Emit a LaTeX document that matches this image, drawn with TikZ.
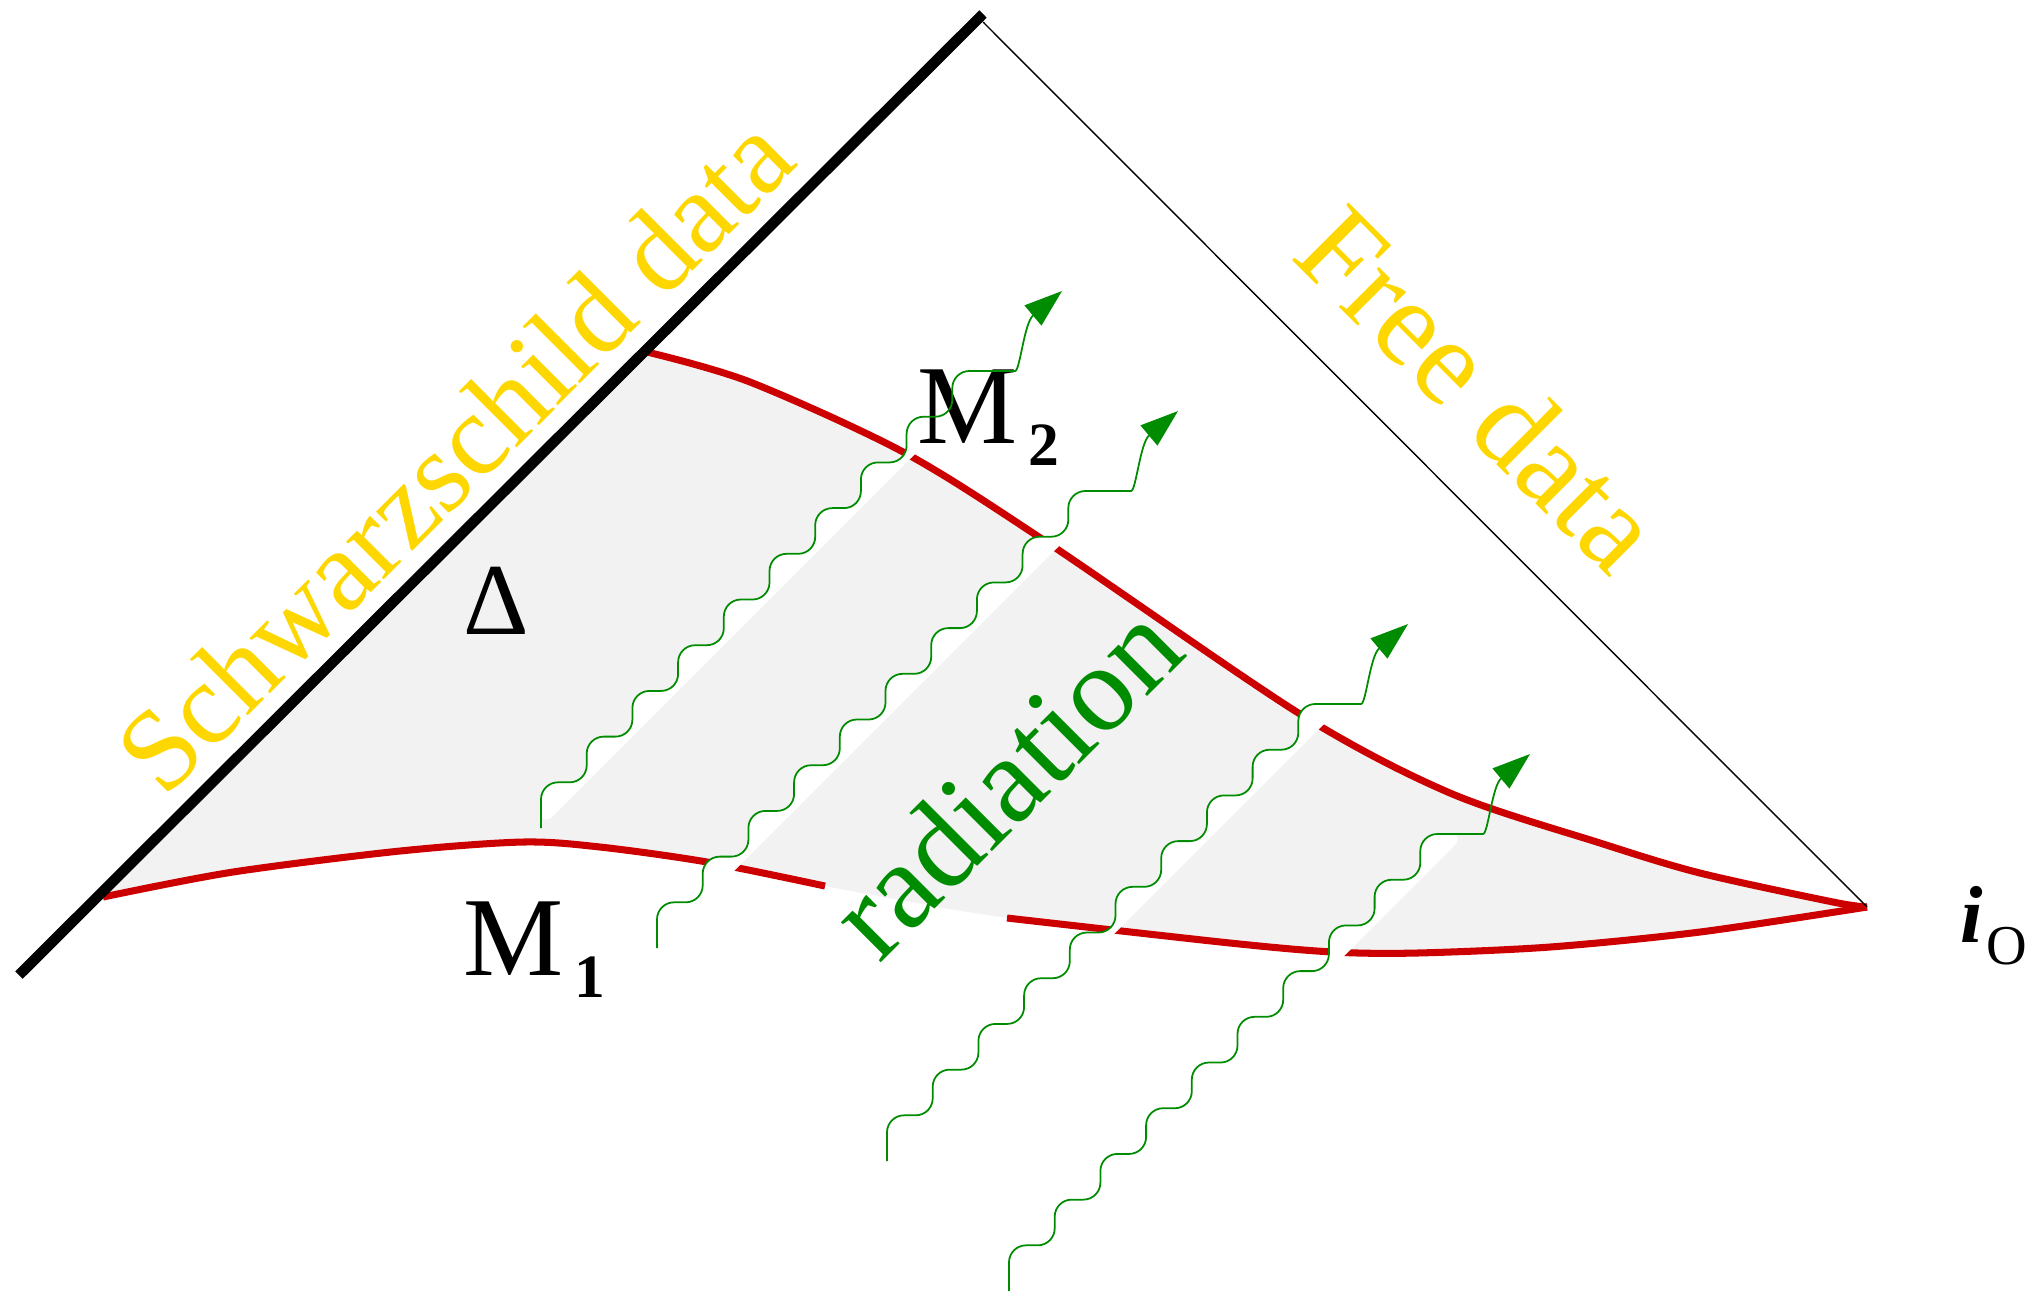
\documentclass[tikz,border=0pt]{standalone}
\usepackage{fontspec}
\setmainfont{Liberation Serif}
\usetikzlibrary{arrows.meta, positioning}
\definecolor{sgold}{HTML}{FFD700}
\definecolor{sgreen}{HTML}{008C00}
\definecolor{sred}{HTML}{CC0000}
\definecolor{sgray}{HTML}{F2F2F2}
\tikzset{
  wave/.style={draw=sgreen, line width=0.5pt, rounded corners=1.7mm, ->},
  shell/.style={draw=sred, line width=2pt},
  bigtext/.style={font=\fontsize{33}{33}\selectfont, inner sep=0pt, anchor=base},
  label/.style={font=\fontsize{32}{32}\selectfont, inner sep=0pt, anchor=base west},
}
\newcommand{\sub}[1]{\kern3pt\raisebox{-6.5pt}{\fontsize{17.5}{17.5}\selectfont\bfseries #1}}

\begin{document}
\begin{tikzpicture}[x=0.01cm, y=-0.01cm, >={Triangle[length=3.8mm, width=2.6mm]}]
        \useasboundingbox (0,0) rectangle (2028,1293);
        \coordinate (bot) at (19,975);
        \coordinate (top) at (983,14);
        \coordinate (apex) at (983,22);
        \coordinate (io) at (1867,907);
        \coordinate (w1s) at (541,828);
        \coordinate (w1t) at (1062,291);
        \coordinate (w2s) at (657,948);
        \coordinate (w2t) at (1178,411);
        \coordinate (w3s) at (887,1161);
        \coordinate (w3t) at (1408,624);
        \coordinate (w4s) at (1009,1291);
        \coordinate (w4t) at (1530,754);
        \fill[sgray] plot[smooth] coordinates {(103,894) (233,872) (400,851) (523,842) (600,847) (707,862) (825,886) (1007,918) (1230,943) (1333,952) (1417,953) (1550,947) (1700,932) (1867,907)}
          -- plot[smooth] coordinates {(1833,902) (1700,873) (1600,843) (1450,793) (1300,714) (1048,543) (905,453) (750,382) (647,350)} -- cycle;
        \draw[shell] plot[smooth] coordinates {(103,897) (233,872) (400,851) (523,842) (600,847) (707,862) (825,886)};
        \draw[shell] plot[smooth] coordinates {(1007,918) (1230,943) (1333,952) (1417,953) (1550,947) (1700,932) (1867,907)};
        \draw[shell] plot[smooth] coordinates {(647,352) (750,382) (905,453) (1048,543) (1300,714) (1450,793) (1600,843) (1700,873) (1833,902) (1867,907)};
        \draw[line width=3pt] (bot) -- (top);
        \draw[line width=0.4pt] (apex) -- (io);
        \foreach \w in {1,...,4} {
          \fill[white, rounded corners=1.7mm] (w\w s) \foreach \k in {1,...,10} { -- ++(0,-45.7) -- ++(45.7,0) } -- cycle;
        }
        \node (schw) [bigtext, text=sgold, rotate=45] at (482,482) {Schwarzschild data};
        \node (free) [bigtext, text=sgold, rotate=-45, font=\fontsize{35}{35}\selectfont] at (1450,418) {Free data};
        \node (rad) [bigtext, text=sgreen, rotate=45, font=\fontsize{35}{35}\selectfont] at (1034,810) {radiation};
        \node (delta) [label, font=\fontsize{29}{29}\selectfont] at (463,634) {Δ};
        \node (m1) [label] at (463,975) {M\sub{1}};
        \node (m2) [label] at (917,443) {M\sub{2}};
        \node (iolab) [below right=3.5mm and 9.3mm of io, anchor=base west, inner sep=0pt] {\fontsize{23}{23}\selectfont\bfseries\itshape i\kern1pt\raisebox{-6.5pt}{\fontsize{16}{16}\selectfont\mdseries\upshape O}};
        \foreach \w in {1,...,4} {
          \draw[wave] (w\w s) \foreach \k in {1,...,10} { -- ++(0,-45.7) -- ++(45.7,0) } .. controls +(22,0) and +(-38,32) .. (w\w t);
        }
\end{tikzpicture}
\end{document}
